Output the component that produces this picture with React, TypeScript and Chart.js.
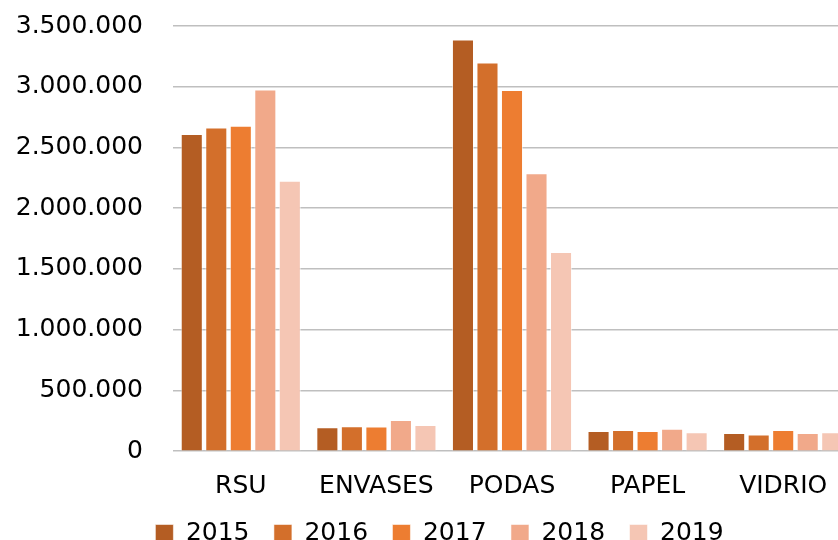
import React, { useEffect, useRef } from "react";
import { Chart, registerables } from "chart.js";

Chart.register(...registerables);

const categories = ["RSU", "ENVASES", "PODAS", "PAPEL", "VIDRIO"];
const seriesNames = ["2015", "2016", "2017", "2018", "2019"];
const values2015 = [2612000, 197000, 3388000, 166000, 149000];
const values2016 = [2665000, 205000, 3200000, 174000, 138000];
const values2017 = [2679000, 204000, 2974000, 166000, 174000];
const values2018 = [2978000, 257000, 2287000, 185000, 149000];
const values2019 = [2226000, 216000, 1640000, 155000, 155000];
const seriesColors = ["#B45D23", "#D36F2B", "#ED7D31", "#F1A98A", "#F5C6B4"];
const yTicks = [0, 500000, 1000000, 1500000, 2000000, 2500000, 3000000, 3500000];

const allValues = [values2015, values2016, values2017, values2018, values2019];

const fmt = (v: number) => String(v).replace(/\B(?=(\d{3})+(?!\d))/g, ".");

const FONT = "'DejaVu Sans', sans-serif";

export default function App() {
  const ref = useRef<HTMLCanvasElement | null>(null);

  useEffect(() => {
    if (!ref.current) return;
    const chart = new Chart(ref.current, {
      type: "bar",
      data: {
        labels: categories,
        datasets: seriesNames.map((name, i) => ({
          label: name,
          data: allValues[i],
          backgroundColor: seriesColors[i],
          borderColor: "rgba(255,255,255,0.55)",
          borderWidth: 1,
          categoryPercentage: 0.904,
          barPercentage: 0.9,
          yAxisID: "y",
        })),
      },
      options: {
        responsive: false,
        animation: false,
        devicePixelRatio: 1,
        layout: { padding: { top: 26, right: 0, left: 0, bottom: 0 } },
        plugins: {
          tooltip: { enabled: false },
          legend: {
            position: "bottom",
            labels: {
              boxWidth: 18,
              boxHeight: 18,
              padding: 24.4,
              color: "#000",
              font: { family: FONT, size: 25 },
            },
          },
        },
        scales: {
          x: {
            grid: { display: false, drawTicks: false },
            border: { display: false },
            ticks: {
              color: "#000",
              font: { family: FONT, size: 25 },
              padding: 20,
              maxRotation: 0,
              autoSkip: false,
            },
            afterFit: (s: any) => {
              s.height = 45.4;
            },
          },
          y: {
            min: 0,
            max: 3500000,
            afterBuildTicks: (s: any) => {
              s.ticks = yTicks.map((v) => ({ value: v }));
            },
            grid: { color: "#BFBFBF", lineWidth: 1.5, drawTicks: false },
            border: { display: false },
            ticks: {
              color: "#000",
              font: { family: FONT, size: 25 },
              padding: 30,
              callback: (v: any) => fmt(Number(v)),
            },
            afterFit: (s: any) => {
              s.width = 173;
              s.paddingTop = 0;
              s.paddingBottom = 0;
            },
          },
          yRight: {
            position: "right",
            min: 0,
            max: 1,
            grid: { display: false, drawTicks: false },
            border: { display: false },
            ticks: { display: false },
            afterFit: (s: any) => {
              s.width = 28;
              s.paddingTop = 0;
              s.paddingBottom = 0;
            },
          },
        },
      },
    });
    return () => chart.destroy();
  }, []);

  return (
    <div
      style={{
        position: "absolute",
        left: 0,
        top: 0,
        width: 838,
        height: 540,
        overflow: "hidden",
        background: "#fff",
      }}
    >
      <canvas ref={ref} width={879} height={556} style={{ display: "block" }} />
    </div>
  );
}
